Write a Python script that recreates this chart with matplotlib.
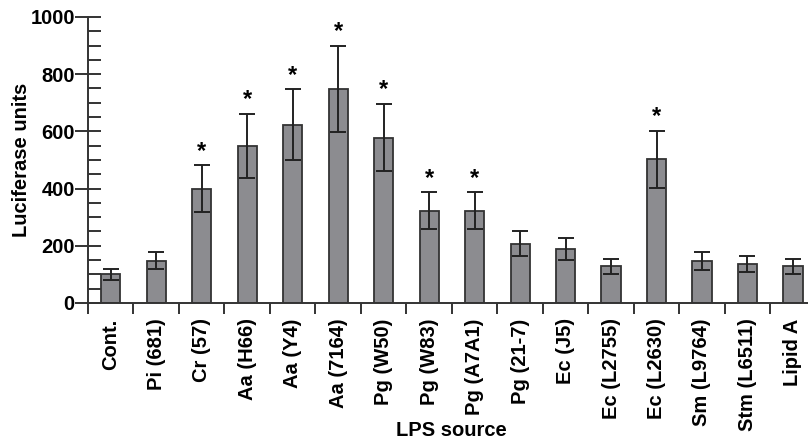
import matplotlib
matplotlib.use("Agg")
import matplotlib.pyplot as plt
import numpy as np
from matplotlib.ticker import MultipleLocator, FixedLocator

plt.rcParams['font.family'] = ['Liberation Sans', 'DejaVu Sans']
plt.rcParams['font.weight'] = 'bold'

categories = ["Cont.", "Pi (681)", "Cr (57)", "Aa (H66)", "Aa (Y4)", "Aa (7164)",
              "Pg (W50)", "Pg (W83)", "Pg (A7A1)", "Pg (21-7)", "Ec (J5)",
              "Ec (L2755)", "Ec (L2630)", "Sm (L9764)", "Stm (L6511)", "Lipid A"]
values = [100, 148, 400, 548, 623, 748, 578, 323, 323, 207, 189, 128, 503, 146, 137, 128]
errors = [18, 30, 81, 112, 124, 151, 117, 64, 64, 43, 38, 27, 100, 31, 27, 27]
significant = [False, False, True, True, True, True, True, True, True, False, False,
               False, True, False, False, False]

fig = plt.figure(figsize=(8.08, 4.43), dpi=100)
ax = fig.add_axes([88/808, (443-303)/443, (815.7-88)/808, (303-17)/443])

x = np.arange(len(categories))
ax.bar(x, values, width=0.42, color='#8c8c90', edgecolor='#333333', linewidth=1.3, zorder=2)
ax.errorbar(x, values, yerr=errors, fmt='none', ecolor='#222222', elinewidth=1.4,
            capsize=5.5, capthick=1.4, zorder=3)
for xi, v, e, s in zip(x, values, errors, significant):
    if s:
        ax.annotate('*', (xi, v + e), xytext=(0, 2), textcoords='offset points',
                    ha='center', va='bottom', fontsize=17, fontweight='bold')

ax.set_xlim(-0.5, len(categories) - 0.5)
ax.set_ylim(0, 1000)
ax.spines['top'].set_visible(False)
ax.spines['right'].set_visible(False)
for sp in ['left', 'bottom']:
    ax.spines[sp].set_linewidth(1.4)
    ax.spines[sp].set_color('#333333')

ax.yaxis.set_major_locator(MultipleLocator(200))
ax.yaxis.set_minor_locator(MultipleLocator(50))
ax.tick_params(axis='y', which='major', direction='inout', length=19, width=1.4,
               labelsize=14.5, color='#333333', pad=0)
ax.tick_params(axis='y', which='minor', direction='in', length=9, width=1.4, color='#333333')

ax.xaxis.set_major_locator(FixedLocator(np.arange(len(categories) + 1) - 0.5))
ax.xaxis.set_minor_locator(FixedLocator(x))
ax.tick_params(axis='x', which='major', direction='out', length=8, width=1.4,
               color='#333333', labelbottom=False)
ax.tick_params(axis='x', which='minor', direction='in', length=5, width=1.4,
               color='#333333', labelsize=14.5, pad=11)
ax.set_xticklabels(categories, minor=True, rotation=90, fontweight='bold')
for lab in ax.get_yticklabels():
    lab.set_fontweight('bold')

ax.set_ylabel('Luciferase units', fontsize=14.5, fontweight='bold')
ax.yaxis.set_label_coords(-(88 - 22) / (815.7 - 88), 0.5)
ax.yaxis.label.set_va('center')
ax.set_xlabel('LPS source', fontsize=14.5, fontweight='bold')
ax.xaxis.set_label_coords((451 - 88) / (815.7 - 88), -(430 - 303) / (303 - 17))
ax.xaxis.label.set_va('center')

fig.savefig('out.png', dpi=100)
